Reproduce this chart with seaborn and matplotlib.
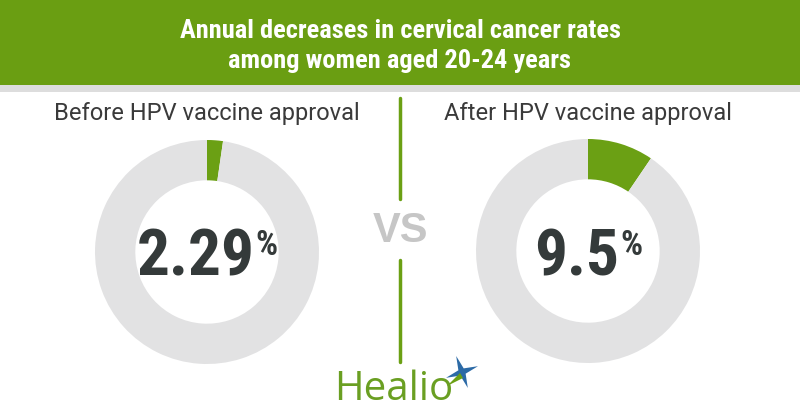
import numpy as np
import matplotlib.pyplot as plt
import seaborn as sns
from matplotlib.patches import Rectangle, Polygon

sns.set_theme(style="white")
plt.rcParams['font.family'] = ['Roboto Condensed', 'Barlow Condensed', 'DejaVu Sans']

# dados
titulo = ['Annual decreases in cervical cancer rates', 'among women aged 20-24 years']
rotulos = ['Before HPV vaccine approval', 'After HPV vaccine approval']
valores = [2.29, 9.5]
textos = ['2.29', '9.5']

verde = '#6ba014'
cinza = '#e2e2e3'
escuro = '#343a3a'

W, H = 800, 420
fig = plt.figure(figsize=(8, 4.2), dpi=100)
fig.patch.set_facecolor('white')


def px(x, y):
    return x / W, 1 - y / H


# faixa do titulo
fig.patches.append(Rectangle(px(0, 85), 1, 85 / H, transform=fig.transFigure,
                             facecolor='#6a9e12', edgecolor='none', zorder=0))
fig.patches.append(Rectangle(px(0, 92), 1, 7 / H, transform=fig.transFigure,
                             facecolor='#dddddd', edgecolor='none', zorder=0))
fig.text(*px(400, 31), titulo[0], color='white', fontsize=19, fontweight='bold',
         ha='center', va='center')
fig.text(*px(400, 61), titulo[1], color='white', fontsize=19, fontweight='bold',
         ha='center', va='center')

# linha vertical e VS
fig.add_artist(plt.Line2D([400 / W, 400 / W], [1 - 98 / H, 1 - 199 / H],
                          transform=fig.transFigure, color=verde, lw=2.5))
fig.add_artist(plt.Line2D([400 / W, 400 / W], [1 - 260 / H, 1 - 362 / H],
                          transform=fig.transFigure, color=verde, lw=2.5))
fig.text(*px(400, 231), 'VS', color='#c6c6c6', fontsize=30, fontweight='bold',
         family=['Liberation Sans', 'DejaVu Sans'], ha='center', va='center')

# donuts
centros = [(207, 252), (588, 251)]
R = 112
fig.canvas.draw()
renderer = fig.canvas.get_renderer()
for (cx, cy), v, rot, txt in zip(centros, valores, rotulos, textos):
    ax = fig.add_axes([(cx - R) / W, (H - cy - R) / H, 2 * R / W, 2 * R / H])
    ax.pie([v, 100 - v], colors=[verde, cinza], startangle=90, counterclock=False,
           radius=1, wedgeprops=dict(width=0.36, edgecolor='none'))
    ax.set_xlim(-1, 1)
    ax.set_ylim(-1, 1)
    ax.set_aspect('equal')
    ax.axis('off')

    fig.text(*px(cx, 114), rot, color='#3a3a3a', fontsize=17,
             family=['Roboto', 'DejaVu Sans'], ha='center', va='center')

    num = fig.text(*px(cx, 275), txt, color=escuro, fontsize=47, fontweight='bold',
                   ha='left', va='baseline')
    pct = fig.text(*px(cx, 229), '%', color=escuro, fontsize=25, fontweight='bold',
                   ha='left', va='top')
    bn = num.get_window_extent(renderer)
    bp = pct.get_window_extent(renderer)
    gap = 1
    total = bn.width + gap + bp.width
    x0 = cx - total / 2
    num.set_position(px(x0, 275))
    pct.set_position(px(x0 + bn.width + gap, 229))

# logo
fig.text(*px(334, 400), 'Healio', color='#6a9f22', fontsize=29,
         family=['Open Sans', 'DejaVu Sans'], ha='left', va='baseline')
ang = np.deg2rad(np.arange(8) * 45 + 20)
rr = np.where(np.arange(8) % 2 == 0, 17, 4)
sx = 462 + rr * np.cos(ang)
sy = 372 - rr * np.sin(ang)
pts = [px(x, y) for x, y in zip(sx, sy)]
fig.patches.append(Polygon(pts, closed=True, transform=fig.transFigure,
                           facecolor='#2c6aa6', edgecolor='none'))
fig.patches.append(Polygon([px(460, 373), px(447, 386), px(463, 378)], closed=True,
                           transform=fig.transFigure, facecolor=verde, edgecolor='none'))

plt.savefig('out.png', dpi=100)
